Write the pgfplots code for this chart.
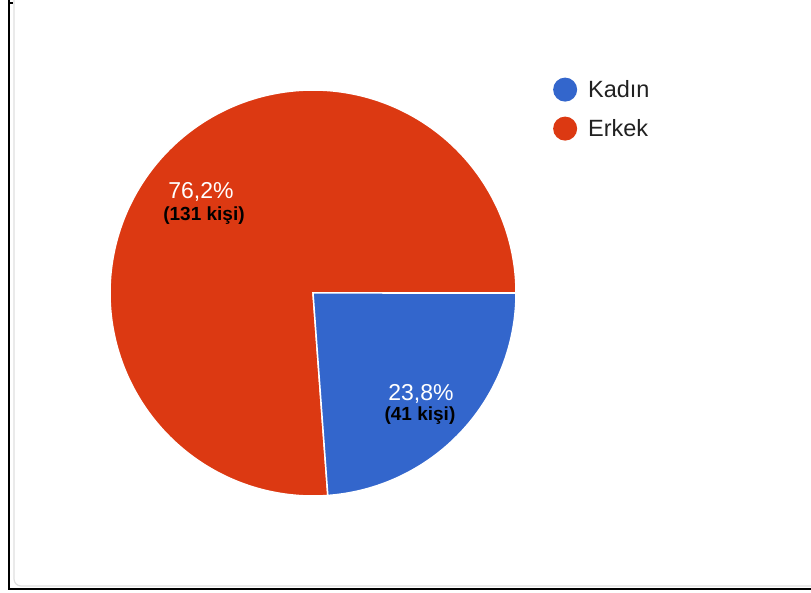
\documentclass[border=0pt]{standalone}
\usepackage{pgfplots}
\usepackage{pgfplotstable}
\pgfplotsset{compat=1.18}
\usepackage{fontspec}
\setmainfont{Liberation Sans}
\definecolor{kblue}{HTML}{3366CC}
\definecolor{ered}{HTML}{DC3912}
\definecolor{txt}{HTML}{212121}
\pgfplotstableread{
label count
Kadin 41
Erkek 131
}\piedata
\begin{document}
\begin{tikzpicture}[x=1pt,y=1pt]
\useasboundingbox (0,0) rectangle (811,592);
\fill[white] (0,0) rectangle (811,592);
% frame
\draw[black!12, line width=1.2pt, rounded corners=7pt] (14,620) -- (14,6) -- (830,6);
\draw[black, line width=2pt] (9,592) -- (9,3) -- (811,3);
\draw[black, line width=1.5pt] (9,589) -- (13,589);
\pgfplotstablegetelem{0}{count}\of\piedata \let\cK\pgfplotsretval
\pgfplotstablegetelem{1}{count}\of\piedata \let\cE\pgfplotsretval
\pgfmathsetmacro\aK{360*\cK/(\cK+\cE)}
\pgfmathsetmacro\aE{360-\aK}
\begin{axis}[
  anchor=origin, at={(313pt,299pt)},
  x=203pt, y=203pt,
  xmin=-1, xmax=1, ymin=-1, ymax=1,
  hide axis, clip=false,
  legend style={at={(axis cs:1.182,1.062)}, anchor=north west, draw=none, fill=none,
    font=\fontsize{23.5}{28}\selectfont\color{txt}, row sep=15pt, inner sep=0pt,
    cells={anchor=west}, column sep=9pt},
  legend image code/.code={\fill[#1] (12pt,0pt) circle (12pt);},
]
\addlegendimage{fill=kblue, draw=none}
\addlegendentry{Kadın}
\addlegendimage{fill=ered, draw=none}
\addlegendentry{Erkek}
\addplot[fill=ered, draw=white, line width=1.5pt, domain=0:\aE, samples=200, smooth, forget plot]
  ({cos(x)},{sin(x)}) -- (axis cs:0,0) -- cycle;
\addplot[fill=kblue, draw=white, line width=1.5pt, domain=-\aK:0, samples=80, smooth, forget plot]
  ({cos(x)},{sin(x)}) -- (axis cs:0,0) -- cycle;
\node[white, font=\fontsize{23}{27}\selectfont] at (axis cs:-0.552,0.498) {76,2\%};
\node[black, font=\fontsize{19}{22}\selectfont\bfseries] at (axis cs:-0.537,0.379) {(131 kişi)};
\node[white, font=\fontsize{23}{27}\selectfont] at (axis cs:0.532,-0.498) {23,8\%};
\node[black, font=\fontsize{19}{22}\selectfont\bfseries] at (axis cs:0.527,-0.606) {(41 kişi)};
\end{axis}
\end{tikzpicture}
\end{document}
